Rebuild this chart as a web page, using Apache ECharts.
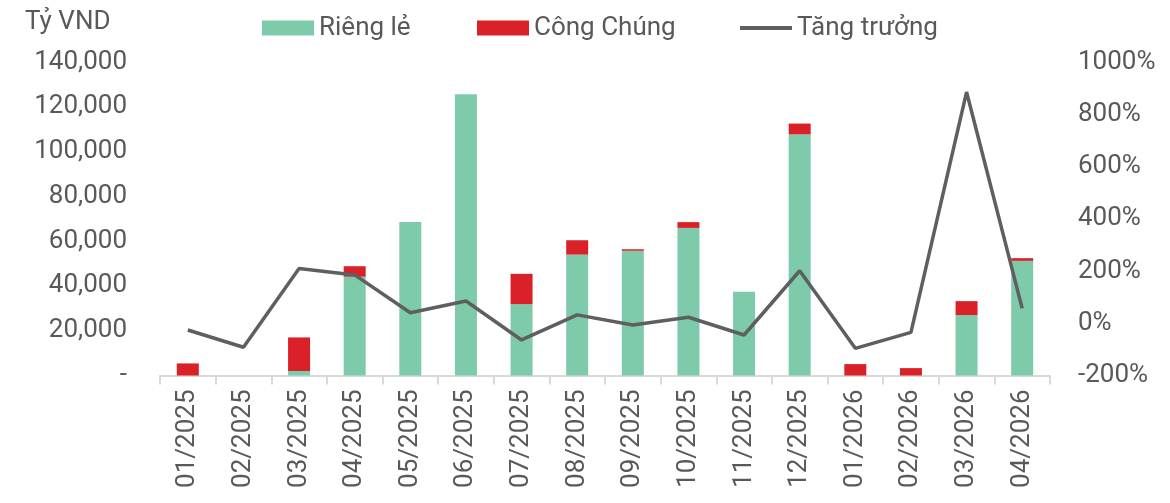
<!DOCTYPE html>
<html>
<head>
<meta charset="utf-8">
<script src="https://cdn.jsdelivr.net/npm/echarts@6/dist/echarts.min.js"></script>
<style>
html,body{margin:0;padding:0;background:#fff;}
#chart{width:1170px;height:503px;}
</style>
</head>
<body>
<div id="chart"></div>
<script>
const categories = ['01/2025','02/2025','03/2025','04/2025','05/2025','06/2025','07/2025','08/2025','09/2025','10/2025','11/2025','12/2025','01/2026','02/2026','03/2026','04/2026'];
const riengLe = [0, 0, 2000, 44100, 68500, 125600, 31900, 54000, 55700, 65900, 37400, 107700, 0, 0, 27000, 51200];
const congChung = [5400, 0, 15000, 4700, 0, 0, 13500, 6400, 700, 2600, 0, 4800, 5100, 3300, 6200, 1200];
const tangTruong = [-26, -92, 210, 185, 40, 85, -64, 32, -7, 23, -45, 201, -96, -35, 885, 57];
const leftTicks = [0, 20000, 40000, 60000, 80000, 100000, 120000, 140000];
const rightTicks = [-200, 0, 200, 400, 600, 800, 1000];

const FONT = 'Roboto';
const TXT = '#595959';
const chart = echarts.init(document.getElementById('chart'));
const legendText = {color: TXT, fontSize: 26, fontFamily: FONT};
chart.setOption({
  animation: false,
  textStyle: {fontFamily: FONT},
  graphic: [{type: 'text', left: 25, top: 9, style: {text: 'Tỷ VND', fill: TXT, fontSize: 26, fontFamily: FONT}}],
  legend: [
    {data: [{name: 'Riêng lẻ', icon: 'rect'}], left: 257, top: 10, itemWidth: 52, itemHeight: 15, textStyle: legendText},
    {data: [{name: 'Công Chúng', icon: 'rect'}], left: 472, top: 10, itemWidth: 52, itemHeight: 15, textStyle: legendText},
    {data: [{name: 'Tăng trưởng', icon: 'rect'}], left: 735, top: 10, itemWidth: 52, itemHeight: 4, textStyle: legendText,
     itemStyle: {color: '#5f5f5f'}}
  ],
  grid: {left: 160, right: 120, top: 62, bottom: 127.5},
  xAxis: {
    type: 'category', data: categories,
    axisLine: {lineStyle: {color: '#d9d9d9', width: 2}},
    axisTick: {show: true, length: 9, lineStyle: {color: '#d9d9d9', width: 2}},
    axisLabel: {rotate: 90, color: TXT, fontSize: 26, fontFamily: FONT, margin: 14, interval: 0}
  },
  yAxis: [
    {type: 'value', min: 0, max: 140000, interval: 20000,
     axisLine: {show: false}, axisTick: {show: false}, splitLine: {show: false},
     axisLabel: {color: TXT, fontSize: 26, fontFamily: FONT, margin: 33,
       formatter: v => v === 0 ? '-' : v.toLocaleString('en-US')}},
    {type: 'value', min: -200, max: 1000, interval: 200,
     axisLine: {show: false}, axisTick: {show: false}, splitLine: {show: false},
     axisLabel: {color: TXT, fontSize: 26, fontFamily: FONT, margin: 28, formatter: v => v + '%'}}
  ],
  series: [
    {name: 'Riêng lẻ', type: 'bar', stack: 'total', data: riengLe, barWidth: 22,
     itemStyle: {color: '#7ecbab'}},
    {name: 'Công Chúng', type: 'bar', stack: 'total', data: congChung, barWidth: 22,
     itemStyle: {color: '#da2128'}},
    {name: 'Tăng trưởng', type: 'line', yAxisIndex: 1, data: tangTruong,
     symbol: 'none', lineStyle: {color: '#5f5f5f', width: 3.5}, itemStyle: {color: '#5f5f5f'}}
  ]
});
</script>
</body>
</html>
